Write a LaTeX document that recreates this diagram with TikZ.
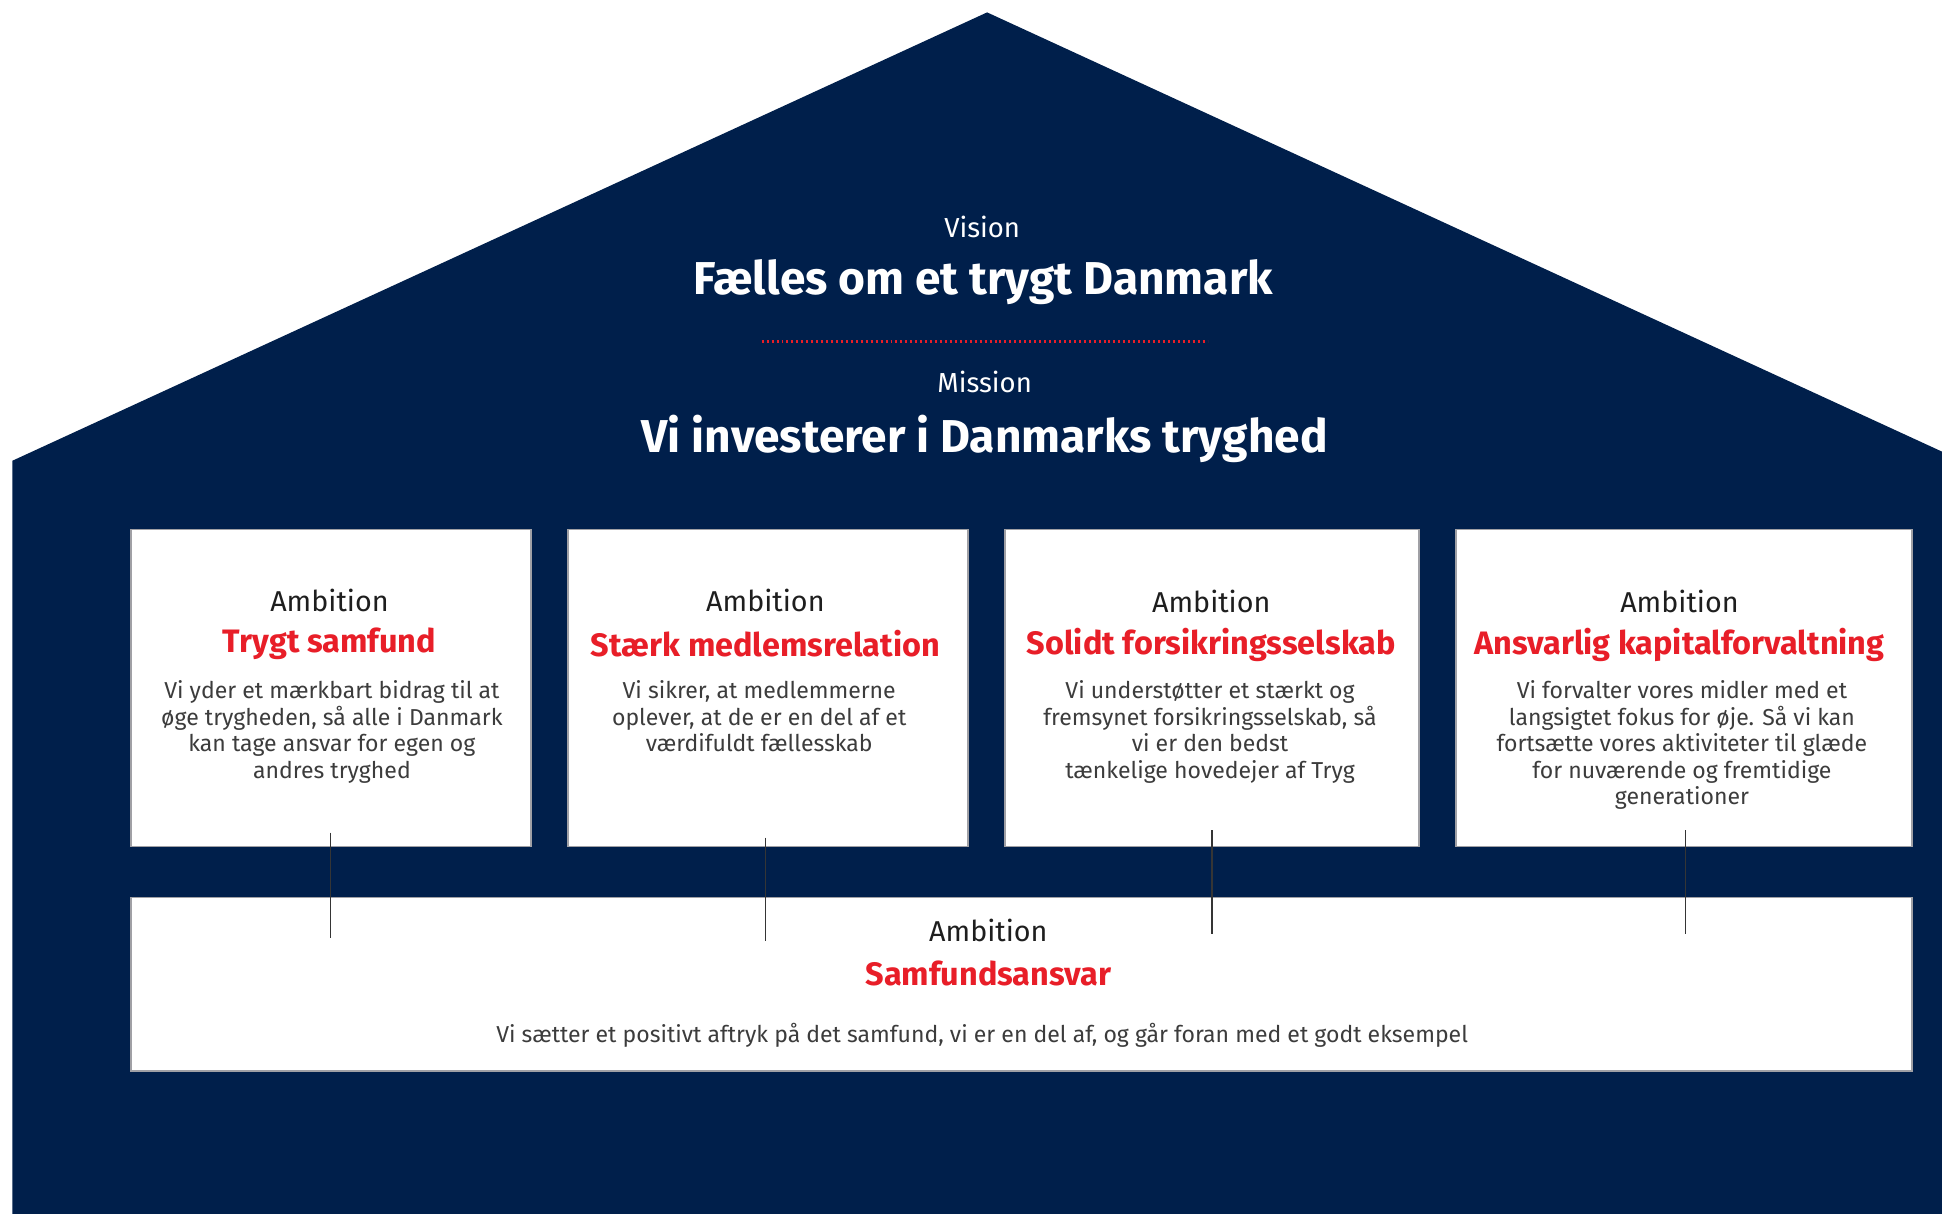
\documentclass[tikz,border=0pt]{standalone}
\usepackage{fontspec}
\setmainfont{Fira Sans}
\definecolor{navy}{RGB}{0,31,75}
\definecolor{tred}{RGB}{232,30,40}
\definecolor{ink}{RGB}{30,30,30}
\definecolor{body}{RGB}{60,60,60}
\definecolor{frame}{RGB}{160,160,165}
\begin{document}
\begin{tikzpicture}[x=0.5pt,y=-0.5pt,
  card/.style={draw=frame,line width=0.6pt,fill=white,inner sep=0pt,anchor=north west},
  lbl/.style={text=ink,inner sep=0pt,font=\fontsize{11.6}{14}\selectfont},
  ttl/.style={text=tred,inner sep=0pt,font=\fontsize{13.1}{16}\selectfont\bfseries},
  txt/.style={text=body,inner sep=0pt,align=center,font=\fontsize{9.3}{10.75}\selectfont},
  head/.style={text=white,inner sep=0pt,font=\fontsize{18.6}{22}\selectfont\bfseries},
  sub/.style={text=white,inner sep=0pt,font=\fontsize{11.1}{13}\selectfont},
  tie/.style={draw=ink!90,line width=0.5pt}]
\useasboundingbox (0,0) rectangle (1568,980);
\begin{scope}
\clip (0,0) rectangle (1568,980);
\fill[navy] (10,990) -- (10,372) -- (797,10) -- (1584,372) -- (1584,990) -- cycle;
\end{scope}
% vision / mission
\node[sub] (vis) at (793,183) {Vision};
\node[head] (visT) at (794,228) {Fælles om et trygt Danmark};
\coordinate (dl) at (615,276);
\coordinate (dr) at (975,276);
\draw[tred,line width=1.1pt,dash pattern=on 0.8pt off 1.2pt] (dl) -- (dr);
\node[sub] (mis) at (795,308) {Mission};
\node[head] (misT) at (795,354) {Vi investerer i Danmarks tryghed};
% cards
\node[card,minimum width=323pt*0.5,minimum height=256pt*0.5] (b1) at (105,427) {};
\node[card,minimum width=323pt*0.5,minimum height=256pt*0.5] (b2) at (458,427) {};
\node[card,minimum width=334pt*0.5,minimum height=256pt*0.5] (b3) at (811,427) {};
\node[card,minimum width=368pt*0.5,minimum height=256pt*0.5] (b4) at (1175,427) {};
\node[card,minimum width=1438pt*0.5,minimum height=140pt*0.5] (b5) at (105,724) {};
% card texts
\node[lbl] (a1) at (266,485) {Ambition};
\node[ttl] (t1) at (266,520) {Trygt samfund};
\node[txt,anchor=north] (d1) at (268,549) {Vi yder et mærkbart bidrag til at\\øge trygheden, så alle i Danmark\\kan tage ansvar for egen og\\andres tryghed};
\node[lbl] (a2) at (618,485) {Ambition};
\node[ttl] (t2) at (618,520) {Stærk medlemsrelation};
\node[txt,anchor=north] (d2) at (613,549) {Vi sikrer, at medlemmerne\\oplever, at de er en del af et\\værdifuldt fællesskab};
\node[lbl] (a3) at (978,486) {Ambition};
\node[ttl] (t3) at (978,521) {Solidt forsikringsselskab};
\node[txt,anchor=north] (d3) at (977,549) {Vi understøtter et stærkt og\\fremsynet forsikringsselskab, så\\vi er den bedst\\tænkelige hovedejer af Tryg};
\node[lbl] (a4) at (1356,486) {Ambition};
\node[ttl] (t4) at (1356,521) {Ansvarlig kapitalforvaltning};
\node[txt,anchor=north] (d4) at (1358,549) {Vi forvalter vores midler med et\\langsigtet fokus for øje. Så vi kan\\fortsætte vores aktiviteter til glæde\\for nuværende og fremtidige\\generationer};
\node[lbl] (a5) at (798,751) {Ambition};
\node[ttl] (t5) at (798,786) {Samfundsansvar};
\node[txt] (d5) at (793,836) {Vi sætter et positivt aftryk på det samfund, vi er en del af, og går foran med et godt eksempel};
% connectors
\draw[tie] ([yshift=6pt]b1.south) -- ([yshift=-16.5pt]b5.north -| b1.south);
\draw[tie] ([xshift=-1pt,yshift=4pt]b2.south) -- ([xshift=-1pt,yshift=-18pt]b5.north -| b2.south);
\draw[tie] ([yshift=7pt]b3.south) -- ([yshift=-15pt]b5.north -| b3.south);
\draw[tie] ([xshift=0.5pt,yshift=7pt]b4.south) -- ([xshift=0.5pt,yshift=-15pt]b5.north -| b4.south);
\end{tikzpicture}
\end{document}
